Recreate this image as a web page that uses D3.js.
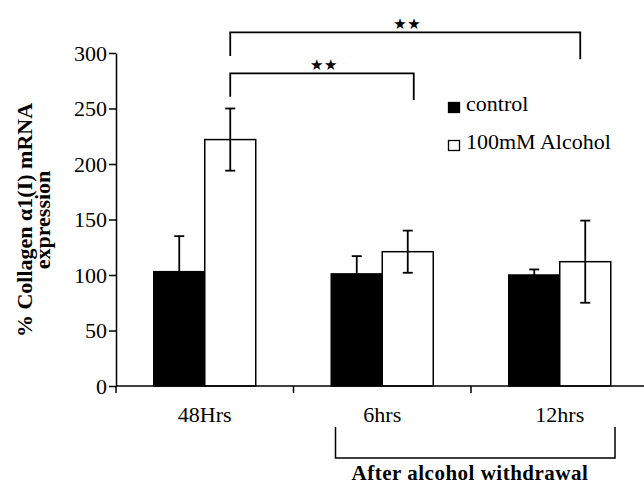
<!DOCTYPE html>
<html>
<head>
<meta charset="utf-8">
<script src="https://cdn.jsdelivr.net/npm/d3@7"></script>
<style>
  body { margin: 0; background: #fff; }
  svg text { font-family: "Liberation Serif", "Times New Roman", serif; fill: #000; }
</style>
</head>
<body>
<svg id="chart" width="644" height="490"></svg>
<script>
// values
var categories = ["48Hrs", "6hrs", "12hrs"];
var seriesNames = ["control", "100mM Alcohol"];
var controlMeans = [103, 101, 100];
var controlErrors = [32, 16, 5];
var alcoholMeans = [222, 121, 112];
var alcoholErrors = [28, 19, 37];
var yTicks = [0, 50, 100, 150, 200, 250, 300];

var svg = d3.select("#chart");
var serif = "'Liberation Serif', 'Times New Roman', serif";

var bandW = 177.5, groupW = 102;
var x = d3.scaleBand().domain(categories).range([116, 116 + bandW * categories.length]);
var x1 = d3.scaleBand().domain(seriesNames).range([0, groupW]);
var y = d3.scaleLinear().domain([0, 300]).range([386, 53]);
var fills = { "control": "#000", "100mM Alcohol": "#fff" };

var rows = [];
categories.forEach(function (c, i) {
    rows.push({ cat: c, series: "control", v: controlMeans[i], e: controlErrors[i] });
    rows.push({ cat: c, series: "100mM Alcohol", v: alcoholMeans[i], e: alcoholErrors[i] });
});
var barX = function (d) { return x(d.cat) + (bandW - groupW) / 2 + x1(d.series); };

// bars
svg.append("g").selectAll("rect")
    .data(rows)
    .enter()
    .append("rect")
    .attr("x", barX)
    .attr("y", function (d) { return y(d.v); })
    .attr("width", x1.bandwidth())
    .attr("height", function (d) { return y(0) - y(d.v); })
    .attr("fill", function (d) { return fills[d.series]; })
    .attr("stroke", "#000")
    .attr("stroke-width", 1.5);

// error bars
var err = svg.append("g").attr("stroke", "#000").attr("stroke-width", 1.8).attr("fill", "none");
rows.forEach(function (d) {
    var cx = barX(d) + x1.bandwidth() / 2, capW = 5;
    err.append("line").attr("x1", cx).attr("x2", cx).attr("y1", y(d.v + d.e)).attr("y2", y(d.v - d.e));
    err.append("line").attr("x1", cx - capW).attr("x2", cx + capW).attr("y1", y(d.v + d.e)).attr("y2", y(d.v + d.e));
    err.append("line").attr("x1", cx - capW).attr("x2", cx + capW).attr("y1", y(d.v - d.e)).attr("y2", y(d.v - d.e));
});

// y axis
var axisY = svg.append("g")
    .attr("transform", "translate(" + x.range()[0] + ",0)")
    .call(d3.axisLeft(y).tickValues(yTicks).tickSize(7).tickPadding(2).tickSizeOuter(0));
axisY.selectAll("text").style("font-size", "22px").style("font-family", serif);
axisY.selectAll("line, path").attr("stroke", "#000").attr("stroke-width", 1.5);

// x axis: line to the edge, ticks on band boundaries, labels at band centres
var axisX = svg.append("g").attr("transform", "translate(0," + y(0) + ")");
axisX.append("line").attr("x1", x.range()[0]).attr("x2", 644).attr("stroke", "#000").attr("stroke-width", 1.5);
axisX.selectAll(".bt")
    .data(categories)
    .enter()
    .append("line")
    .attr("x1", function (c) { return x(c); })
    .attr("x2", function (c) { return x(c); })
    .attr("y2", 7)
    .attr("stroke", "#000")
    .attr("stroke-width", 1.5);
var axisXLabels = svg.append("g")
    .attr("transform", "translate(0," + y(0) + ")")
    .call(d3.axisBottom(x).tickSize(0).tickPadding(20));
axisXLabels.select(".domain").remove();
axisXLabels.selectAll("text").style("font-size", "22px").style("font-family", serif);

// y axis title
var yTitle = svg.append("text")
    .attr("transform", "translate(0,220) rotate(-90)")
    .attr("text-anchor", "middle")
    .style("font-size", "22px")
    .style("font-family", serif)
    .style("font-weight", "bold");
yTitle.append("tspan").attr("x", 0).attr("y", 32).text("% Collagen \u03b11(I) mRNA");
yTitle.append("tspan").attr("x", 0).attr("y", 50).text("expression");

// legend
var legend = svg.append("g").attr("transform", "translate(448,0)");
seriesNames.forEach(function (s, i) {
    var ly = 111 + i * 38;
    legend.append("rect")
        .attr("x", 0.5).attr("y", ly - 8.5)
        .attr("width", 11).attr("height", 10)
        .attr("fill", fills[s]).attr("stroke", "#000").attr("stroke-width", 1.3);
    legend.append("text")
        .attr("x", 18).attr("y", ly)
        .style("font-size", "22px")
        .style("font-family", serif)
        .text(s);
});

// significance brackets
var mid = function (cat, s) { return x(cat) + (bandW - groupW) / 2 + x1(s) + x1.bandwidth() / 2; };
var brackets = [
    { x1: mid("48Hrs", "100mM Alcohol"), x2: mid("6hrs", "100mM Alcohol") + 6, top: 281.7, l: 260.6, r: 257.7 },
    { x1: mid("48Hrs", "100mM Alcohol"), x2: mid("12hrs", "100mM Alcohol") - 5, top: 318.5, l: 297.3, r: 294.3 }
];
brackets.forEach(function (b) {
    svg.append("path")
        .attr("d", "M" + b.x1 + "," + y(b.l) + "V" + y(b.top) + "H" + b.x2 + "V" + y(b.r))
        .attr("fill", "none").attr("stroke", "#000").attr("stroke-width", 1.8);
    svg.append("text")
        .attr("x", (b.x1 + b.x2) / 2 + 2)
        .attr("y", y(b.top) - 3)
        .attr("text-anchor", "middle")
        .style("font-size", "15px")
        .style("font-family", "'DejaVu Sans', sans-serif")
        .style("letter-spacing", "0.5px")
        .text("\u2605\u2605");
});

// bracket under the withdrawal groups
var bx1 = x("6hrs") + 42, bx2 = x("12hrs") + 144;
svg.append("path")
    .attr("d", "M" + bx1 + ",427V458H" + bx2 + "V427")
    .attr("fill", "none").attr("stroke", "#000").attr("stroke-width", 1.5);
svg.append("text")
    .attr("x", 470).attr("y", 480)
    .attr("text-anchor", "middle")
    .style("font-size", "21px")
    .style("font-family", serif)
    .style("font-weight", "bold")
    .style("letter-spacing", "0.5px")
    .text("After alcohol withdrawal");
</script>
</body>
</html>
